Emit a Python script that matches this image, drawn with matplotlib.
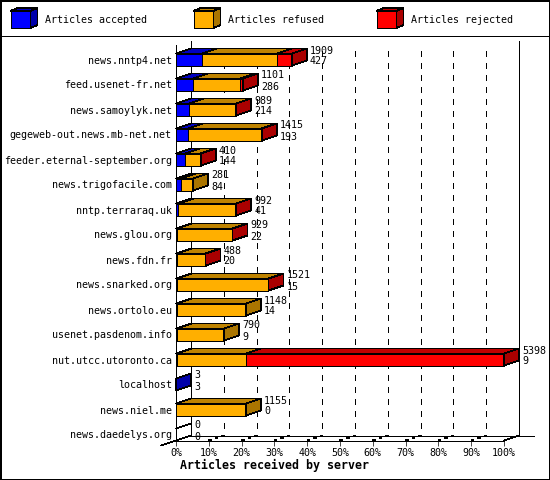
import matplotlib
matplotlib.use('Agg')
import matplotlib.pyplot as plt
from matplotlib.patches import Polygon, Rectangle

plt.rcParams['font.family'] = 'DejaVu Sans Mono'
plt.rcParams['text.hinting'] = 'force_autohint'
plt.rcParams['lines.antialiased'] = False
plt.rcParams['patch.antialiased'] = False

servers = ['news.nntp4.net', 'feed.usenet-fr.net', 'news.samoylyk.net',
           'gegeweb-out.news.mb-net.net', 'feeder.eternal-september.org',
           'news.trigofacile.com', 'nntp.terraraq.uk', 'news.glou.org',
           'news.fdn.fr', 'news.snarked.org', 'news.ortolo.eu',
           'usenet.pasdenom.info', 'nut.utcc.utoronto.ca', 'localhost',
           'news.niel.me', 'news.daedelys.org']
accepted = [427, 286, 214, 193, 144, 84, 41, 22, 20, 15, 14, 9, 9, 3, 0, 0]
refused = [1235, 767, 768, 1201, 256, 197, 941, 895, 458, 1496, 1134, 781, 1143, 0, 1155, 0]
rejected = [247, 48, 7, 21, 10, 0, 10, 12, 10, 10, 0, 0, 4246, 0, 0, 0]
offered = [1909, 1101, 989, 1415, 410, 281, 992, 929, 488, 1521, 1148, 790, 5398, 3, 1155, 0]
legend_labels = ['Articles accepted', 'Articles refused', 'Articles rejected']
pct_ticks = [0, 10, 20, 30, 40, 50, 60, 70, 80, 90, 100]

front = ['#0000ff', '#ffaf00', '#ff0000']
top = ['#0000c0', '#bf8300', '#c00000']
side = ['#0000aa', '#aa7500', '#aa0000']

W, H = 550, 480
LW = 0.5
FS = 7.2
fig = plt.figure(figsize=(W / 100, H / 100), dpi=100)
fig.add_artist(Rectangle((0, 0), 1, 1, transform=fig.transFigure, fill=False, ec='black', lw=1.0))
fig.add_artist(plt.Line2D([0, 1], [1 - 35.5 / H, 1 - 35.5 / H], transform=fig.transFigure, color='black', lw=LW))

# plot box = front plane, everything 3d hangs off it
ax = fig.add_axes([176 / W, 1 - 440.5 / H, 328 / W, 396 / H])
ax.set_xlim(0, 100)
ax.set_ylim(15.24, -0.6)
dx = 15 / 3.28
dy = 0.2
half = 0.24
scale = 100 / max(offered)

for s in ['top', 'right']:
    ax.spines[s].set_visible(False)
for s in ['left', 'bottom']:
    ax.spines[s].set_linewidth(LW)

ax.set_yticks(range(len(servers)))
ax.set_yticklabels(servers, fontsize=FS)
ax.tick_params(axis='y', length=0, pad=3)
ax.set_xticks(pct_ticks)
ax.set_xticklabels([f'{p}%' for p in pct_ticks], fontsize=FS)
ax.tick_params(axis='x', length=3.6, width=LW, pad=1.5)
ax.set_xlabel('Articles received by server', fontsize=8.4, fontweight='bold', ha='left', x=0.012, labelpad=1)

# back wall and floor
back_y = 15.04
line = dict(color='black', lw=LW, clip_on=False, zorder=1)
ax.plot([dx, dx], [-0.76, back_y], **line)
ax.plot([100 + dx, 100 + dx], [-0.76, back_y], **line)
ax.plot([dx, 109.1], [back_y, back_y], **line)
ax.plot([-dx, dx], [15.44, back_y], **line)
ax.plot([100, 100 + dx], [15.24, back_y], **line)
for p in pct_ticks[1:-1]:
    ax.plot([p + dx, p + dx], [-0.36, back_y], color='black', lw=LW, ls=(0, (8, 10)), clip_on=False, zorder=1)
    ax.plot([p, p + dx], [15.24, back_y], color='black', lw=1.0, ls=(0, (2, 3)), clip_on=False, zorder=1)

# bars
for i in range(len(servers)):
    segs = [accepted[i], refused[i], rejected[i]]
    y0, y1 = i - half, i + half
    x = 0
    last = None
    z = 3 + i
    for k, v in enumerate(segs):
        if v == 0:
            continue
        w = v * scale
        ax.add_patch(Polygon([(x, y0), (x + dx, y0 - dy), (x + w + dx, y0 - dy), (x + w, y0)],
                             fc=top[k], ec='black', lw=LW, clip_on=False, zorder=z))
        ax.add_patch(Rectangle((x, y0), w, y1 - y0, fc=front[k], ec='black', lw=LW, clip_on=False, zorder=z))
        x += w
        last = k
    if last is None:
        ax.plot([0, dx], [y0, y0 - dy], color='black', lw=LW, clip_on=False, zorder=z)
    else:
        ax.add_patch(Polygon([(x, y0), (x + dx, y0 - dy), (x + dx, y1 - dy), (x, y1)],
                             fc=side[last], ec='black', lw=LW, clip_on=False, zorder=z))
    ax.text(x + dx + 0.9, i - 0.36, str(offered[i]), fontsize=FS, va='center', ha='left', zorder=30, clip_on=False)
    ax.text(x + dx + 0.9, i + 0.08, str(accepted[i]), fontsize=FS, va='center', ha='left', zorder=30, clip_on=False)

# legend strip
lg = fig.add_axes([0, 1 - 35 / H, 1, 35 / H])
lg.set_xlim(0, W)
lg.set_ylim(35, 0)
lg.axis('off')
for k, label in enumerate(legend_labels):
    x0 = 10.5 + 183 * k
    lg.add_patch(Rectangle((x0, 11), 20, 17, fc=front[k], ec='black', lw=LW))
    lg.add_patch(Polygon([(x0, 11), (x0 + 7, 8), (x0 + 27, 8), (x0 + 20, 11)], fc=top[k], ec='black', lw=LW))
    lg.add_patch(Polygon([(x0 + 20, 11), (x0 + 27, 8), (x0 + 27, 25), (x0 + 20, 28)], fc=side[k], ec='black', lw=LW))
    lg.text(x0 + 34.5, 20, label, fontsize=FS, va='center', ha='left')

fig.savefig('out.png', dpi=100)
